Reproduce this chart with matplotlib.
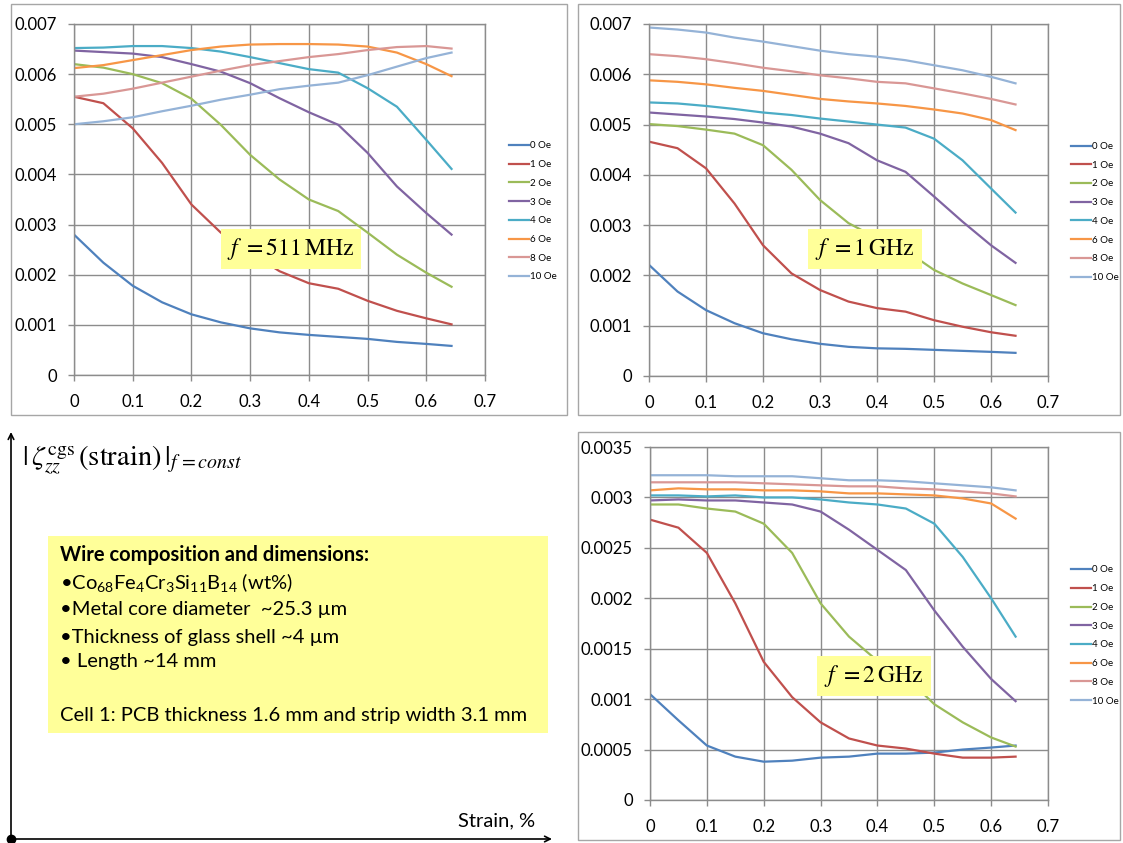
import numpy as np
import matplotlib.pyplot as plt
from matplotlib.patches import Rectangle

plt.rcParams['font.family'] = 'Lato'
plt.rcParams['mathtext.fontset'] = 'custom'
plt.rcParams['mathtext.rm'] = 'Lato'
plt.rcParams['mathtext.it'] = 'Lato:italic'
plt.rcParams['mathtext.bf'] = 'Lato:bold'

# strain, %
strain = [0, 0.05, 0.1, 0.15, 0.2, 0.25, 0.3, 0.35, 0.4, 0.45, 0.5, 0.55, 0.6, 0.643]
fields = ['0 Oe', '1 Oe', '2 Oe', '3 Oe', '4 Oe', '6 Oe', '8 Oe', '10 Oe']
colors = ['#4F81BD', '#C0504D', '#9BBB59', '#8064A2', '#4BACC6', '#F79646', '#D99795', '#95B3D7']

# |zeta_zz| at f = 511 MHz
f511 = [
    [0.00280, 0.00224, 0.00178, 0.00145, 0.00121, 0.00105, 0.00093, 0.00085, 0.00080, 0.00076, 0.00072, 0.00066, 0.00062, 0.00058],
    [0.00555, 0.00542, 0.00492, 0.00423, 0.00340, 0.00284, 0.00244, 0.00207, 0.00183, 0.00172, 0.00148, 0.00128, 0.00113, 0.00101],
    [0.00620, 0.00613, 0.00600, 0.00582, 0.00551, 0.00499, 0.00439, 0.00390, 0.00350, 0.00327, 0.00284, 0.00240, 0.00204, 0.00176],
    [0.00647, 0.00644, 0.00641, 0.00634, 0.00620, 0.00605, 0.00582, 0.00552, 0.00524, 0.00499, 0.00443, 0.00376, 0.00323, 0.00280],
    [0.00652, 0.00653, 0.00656, 0.00656, 0.00652, 0.00645, 0.00634, 0.00622, 0.00610, 0.00603, 0.00572, 0.00535, 0.00469, 0.00411],
    [0.00612, 0.00618, 0.00628, 0.00638, 0.00648, 0.00655, 0.00659, 0.00660, 0.00660, 0.00659, 0.00655, 0.00643, 0.00620, 0.00596],
    [0.00555, 0.00561, 0.00571, 0.00583, 0.00595, 0.00607, 0.00618, 0.00626, 0.00634, 0.00640, 0.00648, 0.00654, 0.00656, 0.00651],
    [0.00500, 0.00506, 0.00514, 0.00526, 0.00537, 0.00549, 0.00559, 0.00570, 0.00577, 0.00583, 0.00598, 0.00615, 0.00632, 0.00643],
]

# f = 1 GHz
f1g = [
    [0.00221, 0.00168, 0.00131, 0.00105, 0.00085, 0.00073, 0.00064, 0.00058, 0.00055, 0.00054, 0.00052, 0.00050, 0.00048, 0.00046],
    [0.00466, 0.00453, 0.00413, 0.00343, 0.00260, 0.00204, 0.00171, 0.00148, 0.00135, 0.00128, 0.00111, 0.00098, 0.00087, 0.00080],
    [0.00501, 0.00497, 0.00490, 0.00482, 0.00459, 0.00410, 0.00350, 0.00304, 0.00274, 0.00250, 0.00211, 0.00184, 0.00161, 0.00141],
    [0.00524, 0.00520, 0.00516, 0.00511, 0.00504, 0.00496, 0.00482, 0.00463, 0.00429, 0.00406, 0.00357, 0.00307, 0.00260, 0.00225],
    [0.00544, 0.00542, 0.00537, 0.00531, 0.00524, 0.00519, 0.00512, 0.00506, 0.00500, 0.00494, 0.00472, 0.00429, 0.00373, 0.00325],
    [0.00588, 0.00585, 0.00580, 0.00573, 0.00567, 0.00559, 0.00551, 0.00546, 0.00542, 0.00537, 0.00530, 0.00522, 0.00509, 0.00489],
    [0.00640, 0.00636, 0.00630, 0.00622, 0.00613, 0.00606, 0.00598, 0.00592, 0.00585, 0.00582, 0.00572, 0.00562, 0.00551, 0.00540],
    [0.00693, 0.00689, 0.00683, 0.00673, 0.00665, 0.00656, 0.00647, 0.00640, 0.00635, 0.00628, 0.00618, 0.00608, 0.00595, 0.00582],
]

# f = 2 GHz
f2g = [
    [0.00105, 0.00079, 0.00054, 0.00043, 0.00038, 0.00039, 0.00042, 0.00043, 0.00046, 0.00046, 0.00047, 0.00050, 0.00052, 0.00054],
    [0.00278, 0.00270, 0.00245, 0.00195, 0.00137, 0.00102, 0.00077, 0.00061, 0.00054, 0.00051, 0.00046, 0.00042, 0.00042, 0.00043],
    [0.00293, 0.00293, 0.00289, 0.00286, 0.00274, 0.00245, 0.00195, 0.00162, 0.00138, 0.00122, 0.00095, 0.00077, 0.00062, 0.00053],
    [0.00297, 0.00298, 0.00297, 0.00297, 0.00295, 0.00293, 0.00286, 0.00268, 0.00248, 0.00228, 0.00188, 0.00152, 0.00120, 0.00098],
    [0.00302, 0.00302, 0.00301, 0.00302, 0.00300, 0.00300, 0.00298, 0.00295, 0.00293, 0.00289, 0.00274, 0.00241, 0.00200, 0.00162],
    [0.00307, 0.00309, 0.00308, 0.00308, 0.00307, 0.00307, 0.00306, 0.00304, 0.00304, 0.00303, 0.00302, 0.00299, 0.00294, 0.00279],
    [0.00315, 0.00315, 0.00315, 0.00315, 0.00314, 0.00313, 0.00312, 0.00311, 0.00311, 0.00309, 0.00308, 0.00306, 0.00304, 0.00301],
    [0.00322, 0.00322, 0.00322, 0.00321, 0.00321, 0.00321, 0.00319, 0.00317, 0.00317, 0.00316, 0.00314, 0.00312, 0.00310, 0.00307],
]

xticks = [0, 0.1, 0.2, 0.3, 0.4, 0.5, 0.6, 0.7]
yticks_1 = [0, 0.001, 0.002, 0.003, 0.004, 0.005, 0.006, 0.007]
yticks_2 = [0, 0.0005, 0.001, 0.0015, 0.002, 0.0025, 0.003, 0.0035]

W, H = 1123, 843
GRID = '#8C8C8C'

fig = plt.figure(figsize=(W / 100, H / 100), dpi=100)


def px_rect(x0, y0, x1, y1):
    # pixel box (top-left origin) -> figure fraction rect
    return [x0 / W, 1 - y1 / H, (x1 - x0) / W, (y1 - y0) / H]


def panel(rect, data, yticks):
    ax = fig.add_axes(rect)
    for ys, c, lab in zip(data, colors, fields):
        ax.plot(strain, ys, color=c, lw=1.6, label=lab)
    ax.set_xlim(0, 0.7)
    ax.set_ylim(0, yticks[-1])
    ax.set_xticks(xticks)
    ax.set_xticklabels([f'{v:g}' for v in xticks])
    ax.set_yticks(yticks)
    ax.set_yticklabels([f'{v:g}' for v in yticks])
    ax.grid(color=GRID, lw=1.0)
    ax.set_axisbelow(True)
    for s in ax.spines.values():
        s.set_color(GRID)
        s.set_linewidth(1.0)
    ax.tick_params(colors=GRID, labelcolor='black', length=4.5, width=1.0,
                   labelsize=12)
    ax.tick_params(axis='x', pad=9)
    ax.tick_params(axis='y', pad=8)
    ax.legend(loc='center left', bbox_to_anchor=(1.049, 0.466), frameon=False,
              fontsize=7, handlelength=2.06, handletextpad=0.05, labelspacing=1.0,
              borderaxespad=0)
    return ax


panel(px_rect(74, 24, 485, 375), f511, yticks_1)
panel(px_rect(649, 24, 1048, 376), f1g, yticks_1)
panel(px_rect(650, 447, 1048, 800), f2g, yticks_2)

# decoration layer in pixel coordinates
deco = fig.add_axes([0, 0, 1, 1], facecolor='none')
deco.set_xlim(0, W)
deco.set_ylim(H, 0)
deco.axis('off')

for x0, y0, x1, y1 in [(11, 4, 567, 415), (578, 4, 1120, 415), (578, 432, 1120, 840)]:
    deco.add_patch(Rectangle((x0, y0), x1 - x0, y1 - y0, fill=False,
                             ec='#A6A6A6', lw=1.0))

YEL = '#FFFF99'
box = dict(facecolor=YEL, edgecolor='none', pad=5)
deco.text(291, 249, r'$f\ =511\,\mathrm{MHz}$', fontsize=17, ha='center', va='center',
          math_fontfamily='stix', bbox=box)
deco.text(865, 249, r'$f\ =1\,\mathrm{GHz}$', fontsize=17, ha='center', va='center',
          math_fontfamily='stix', bbox=box)
deco.text(874, 676, r'$f\ =2\,\mathrm{GHz}$', fontsize=17, ha='center', va='center',
          math_fontfamily='stix', bbox=box)

# sketch axes at bottom left
deco.annotate('', xy=(11, 432), xytext=(11, 839),
              arrowprops=dict(arrowstyle='->', lw=1.2, color='black', shrinkA=0, shrinkB=0))
deco.annotate('', xy=(552, 839), xytext=(11, 839),
              arrowprops=dict(arrowstyle='->', lw=1.2, color='black', shrinkA=0, shrinkB=0))
deco.plot([11], [839], 'o', ms=6, color='black', clip_on=False)
deco.text(22, 460, r'$|\,\zeta_{zz}^{\mathrm{cgs}}\,(\mathrm{strain})\,|_{f\,=const}$',
          fontsize=20.5, ha='left', va='center', math_fontfamily='stix')
deco.text(535, 821, 'Strain, %', fontsize=14.5, ha='right', va='center')

deco.add_patch(Rectangle((48, 536), 500, 197, fc=YEL, ec='none'))
lines = [
    ('Wire composition and dimensions:', 'bold', 555),
    (r'•Co$_{68}$Fe$_{4}$Cr$_{3}$Si$_{11}$B$_{14}$ (wt%)', 'normal', 583),
    ('•Metal core diameter  ~25.3 µm', 'normal', 610),
    ('•Thickness of glass shell ~4 µm', 'normal', 637),
    ('• Length ~14 mm', 'normal', 662),
    ('Cell 1: PCB thickness 1.6 mm and strip width 3.1 mm', 'normal', 715),
]
for txt, wt, y in lines:
    deco.text(60, y, txt, fontsize=14.5, fontweight=wt, ha='left', va='center')

fig.savefig('out.png', dpi=100)
